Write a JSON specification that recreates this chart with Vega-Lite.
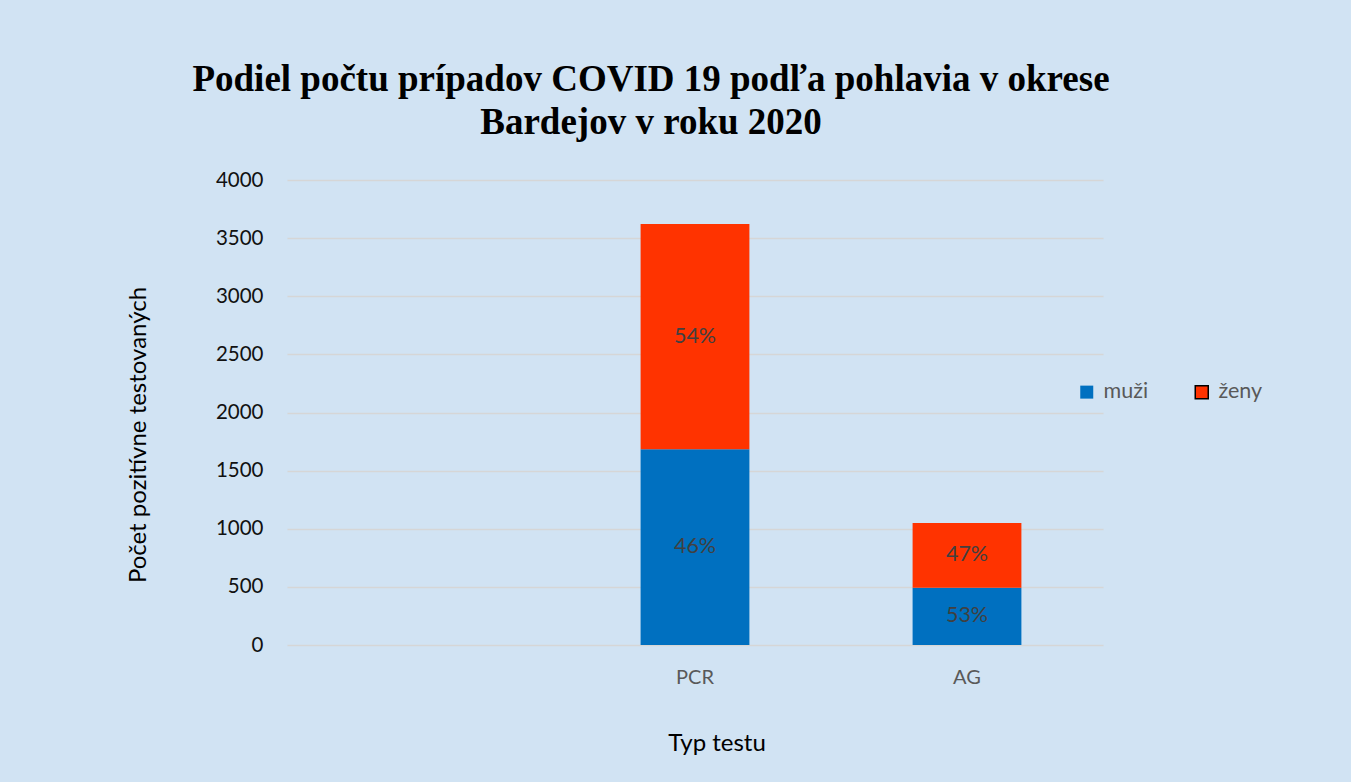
{
  "$schema": "https://vega.github.io/schema/vega-lite/v6.json",
  "width": 816,
  "height": 465,
  "autosize": {"type": "none"},
  "padding": {"left": 287, "top": 180, "right": 248, "bottom": 137},
  "background": "#d1e3f3",
  "config": {
    "view": {"stroke": null},
    "font": "Lato"
  },
  "title": {
    "text": ["Podiel počtu prípadov COVID 19 podľa pohlavia v okrese", "Bardejov v roku 2020"],
    "font": "Liberation Serif",
    "fontSize": 37,
    "fontWeight": "bold",
    "color": "#000000",
    "anchor": "middle",
    "frame": "group",
    "baseline": "bottom",
    "lineHeight": 43,
    "offset": 40,
    "dx": -44,
    "dy": 49
  },
  "data": {
    "values": [
      {"test": "PCR", "sex": "muži", "count": 1683, "label": "46%"},
      {"test": "PCR", "sex": "ženy", "count": 1939, "label": "54%"},
      {"test": "AG", "sex": "muži", "count": 493, "label": "53%"},
      {"test": "AG", "sex": "ženy", "count": 556, "label": "47%"}
    ]
  },
  "transform": [
    {"stack": "count", "groupby": ["test"], "sort": [{"field": "sex", "order": "ascending"}], "as": ["y0", "y1"]},
    {"calculate": "(datum.y0 + datum.y1) / 2", "as": "ymid"}
  ],
  "encoding": {
    "x": {
      "field": "test",
      "type": "nominal",
      "scale": {"domain": ["", "PCR", "AG"], "paddingInner": 0.6, "paddingOuter": 0.3},
      "axis": {
        "title": "Typ testu",
        "labelAngle": 0,
        "domain": false,
        "ticks": false,
        "labelPadding": 22,
        "labelFontSize": 20,
        "labelColor": "#595959",
        "titleFontSize": 24,
        "titleFontWeight": "normal",
        "titleColor": "#000000",
        "titleX": 429.5,
        "titleY": 105,
        "titleBaseline": "alphabetic",
        "titleAnchor": null
      }
    }
  },
  "layer": [
    {
      "mark": {"type": "bar"},
      "encoding": {
        "y": {
          "field": "y1",
          "type": "quantitative",
          "scale": {"domain": [0, 4000], "nice": false},
          "axis": {
            "title": "Počet pozitívne testovaných",
            "values": [0, 500, 1000, 1500, 2000, 2500, 3000, 3500, 4000],
            "format": "d",
            "domain": false,
            "ticks": false,
            "labelPadding": 24,
            "labelFontSize": 20.5,
            "labelColor": "#111111",
            "gridColor": "#d6d6d6",
            "gridWidth": 1.5,
            "titleFontSize": 24,
            "titleFontWeight": "normal",
            "titleColor": "#000000",
            "titleAngle": -90,
            "titleX": -142,
            "titleY": 254.5,
            "titleBaseline": "alphabetic",
            "titleAlign": "center",
            "titleAnchor": null
          }
        },
        "y2": {"field": "y0"},
        "color": {
          "field": "sex",
          "type": "nominal",
          "scale": {"domain": ["muži", "ženy"], "range": ["#0070c0", "#ff3300"]},
          "legend": {
            "title": null,
            "orient": "none",
            "direction": "horizontal",
            "legendX": 789,
            "legendY": 201,
            "symbolType": "square",
            "symbolSize": 169,
            "symbolOpacity": 1,
            "labelFontSize": 21.5,
            "labelColor": "#595959",
            "labelOffset": 6,
            "columnPadding": 42,
            "padding": 0,
            "encode": {
              "symbols": {
                "update": {
                  "stroke": {"signal": "datum.value === 'ženy' ? '#000000' : 'transparent'"},
                  "strokeWidth": {"value": 1.5}
                }
              }
            }
          }
        }
      }
    },
    {
      "mark": {"type": "text", "fontSize": 21.5, "color": "#404040", "baseline": "middle"},
      "encoding": {
        "y": {"field": "ymid", "type": "quantitative"},
        "text": {"field": "label"}
      }
    }
  ]
}
